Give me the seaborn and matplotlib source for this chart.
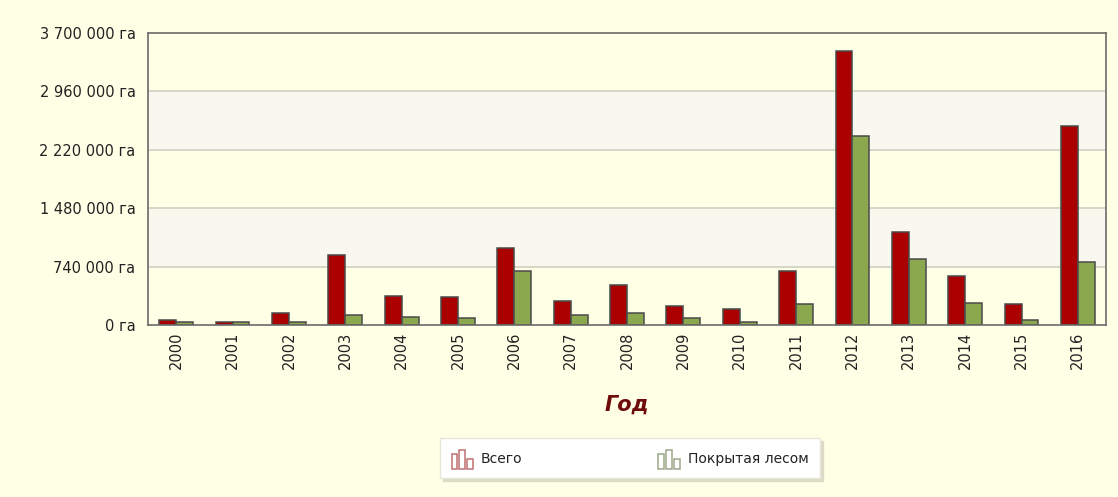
import numpy as np
import pandas as pd
import matplotlib
matplotlib.use("Agg")
import matplotlib.pyplot as plt
from matplotlib.patches import Rectangle, Patch
from matplotlib.legend_handler import HandlerBase
import seaborn as sns

years = [str(y) for y in range(2000, 2017)]
total = [63000, 40000, 152000, 887000, 371000, 355000, 972000, 308000, 507000,
         241000, 199000, 688000, 3476000, 1174000, 621000, 266000, 2522000]
forest = [40000, 40000, 40000, 123000, 105000, 85000, 680000, 127000, 152000,
          89000, 38000, 266000, 2391000, 840000, 283000, 63000, 794000]
series_names = ["Всего", "Покрытая лесом"]
y_ticks = [0, 740000, 1480000, 2220000, 2960000, 3700000]

RED = "#AA0000"
GREEN = "#8BA84E"
BG = "#FFFFE6"
BAND = "#F8F8EE"

df = pd.DataFrame({
    "year": years * 2,
    "value": total + forest,
    "series": [series_names[0]] * len(years) + [series_names[1]] * len(years),
})

sns.set_theme(style="white")
plt.rcParams["font.family"] = ["DejaVu Sans"]

fig = plt.figure(figsize=(11.18, 4.97), dpi=100, facecolor=BG)
ax = fig.add_axes([0.1324, 0.346, 0.8569, 0.5876])
ax.set_facecolor(BG)

sns.barplot(data=df, x="year", y="value", hue="series", order=years,
            hue_order=series_names, palette=[RED, GREEN], width=0.6,
            saturation=1, edgecolor="#4A4A4A", linewidth=1.1, ax=ax,
            legend=False, zorder=2)

ax.set_ylim(0, y_ticks[-1])
ax.set_xlim(-0.5, len(years) - 0.5)

# alternating horizontal bands, spanning the full width of the axes
band_tf = ax.get_yaxis_transform()
for lo, hi in [(y_ticks[1], y_ticks[2]), (y_ticks[3], y_ticks[4])]:
    ax.add_patch(Rectangle((0, lo), 1, hi - lo, transform=band_tf,
                           facecolor=BAND, edgecolor="none", zorder=0))
for t in y_ticks[1:-1]:
    ax.axhline(t, color="#D3D3C6", lw=1.3, zorder=0.5)

ax.set_yticks(y_ticks)
ax.set_yticklabels([f"{v:,}".replace(",", " ") + " га" for v in y_ticks])
ax.tick_params(axis="y", length=0, pad=9, labelsize=10.5, labelcolor="#222222")
ax.tick_params(axis="x", length=0, pad=5, labelsize=10.5, labelcolor="#222222",
               rotation=90)
ax.set_ylabel("")
ax.set_xlabel("Год", fontsize=15, fontweight="bold", fontstyle="italic",
              color="#6E0B0B", labelpad=18)
for s in ax.spines.values():
    s.set_visible(True)
    s.set_color("#6A6A6A")
    s.set_linewidth(1.2)


class BarIconHandler(HandlerBase):
    """Draws a tiny three-column outline icon as the legend key."""
    def create_artists(self, legend, orig_handle, xdescent, ydescent,
                       width, height, fontsize, trans):
        col = orig_handle.get_edgecolor()
        bw = width * 0.27
        step = width * 0.365
        heights = [0.82, 1.0, 0.5]
        arts = []
        for i, h in enumerate(heights):
            x0 = -xdescent + i * step
            arts.append(Rectangle((x0, -ydescent - height * 0.15), bw,
                                  height * 1.15 * h,
                                  facecolor="white", edgecolor=col,
                                  linewidth=1.1, transform=trans))
        return arts


handles = [Patch(facecolor="white", edgecolor="#C07070"),
           Patch(facecolor="white", edgecolor="#9AA88A")]
leg = fig.legend(handles, series_names, loc="center",
                 bbox_to_anchor=(0.5635, 0.078), ncol=2, frameon=True,
                 fontsize=10, handler_map={Patch: BarIconHandler()},
                 handlelength=1.55, handleheight=1.4, handletextpad=0.55,
                 columnspacing=9.8, borderpad=0.85, borderaxespad=0,
                 fancybox=False,
                 shadow={"color": "#DCDCC6", "alpha": 1.0})
leg.get_frame().set_facecolor("white")
leg.get_frame().set_edgecolor("#E6E6DA")
for t in leg.get_texts():
    t.set_color("#222222")

fig.savefig("out.png", dpi=100, facecolor=BG)
